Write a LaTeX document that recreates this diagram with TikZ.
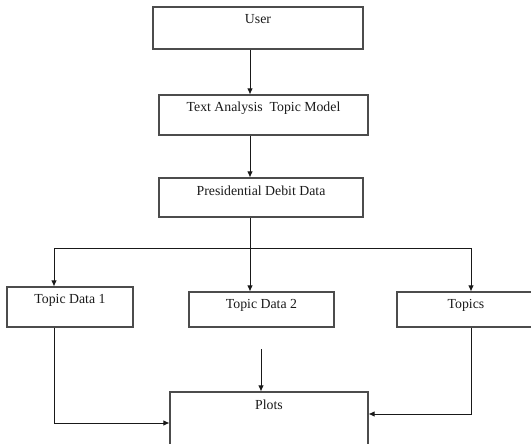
\documentclass[tikz,border=0pt]{standalone}
\usepackage{fontspec}
\setmainfont{Liberation Serif}
\usetikzlibrary{arrows.meta}
\begin{document}
\begin{tikzpicture}[x=1pt,y=-1pt,
  box/.style={draw=black!70, line width=1.1pt, inner sep=0pt},
  lbl/.style={anchor=base, inner sep=0pt, text=black!90, font=\fontsize{13.8}{16}\selectfont},
  conn/.style={draw=black!90, line width=0.9pt},
  arr/.style={conn, -{Latex[length=6pt,width=5.5pt]}}]
  \useasboundingbox (0,0) rectangle (531,444);
  \clip (0,0) rectangle (531,444);

  % boxes
  \node[box, minimum width=210pt, minimum height=42pt] (user)   at (258,28)    {};
  \node[box, minimum width=209pt, minimum height=40pt] (tatm)   at (263.5,115) {};
  \node[box, minimum width=204pt, minimum height=39pt] (pdd)    at (261,197.5) {};
  \node[box, minimum width=126pt, minimum height=40pt] (td1)    at (70,307)    {};
  \node[box, minimum width=145pt, minimum height=35pt] (td2)    at (261.5,309.5) {};
  \node[box, minimum width=138pt, minimum height=35pt] (topics) at (466,309.5) {};
  \node[box, minimum width=198pt, minimum height=78pt] (plots)  at (269,431)   {};

  % labels near the top of each box
  \node[lbl, yshift=-17.5pt] (userT)   at (user.north)   {User};
  \node[lbl, yshift=-17.5pt] (tatmT)   at (tatm.north)   {Text Analysis\ \ Topic Model};
  \node[lbl, yshift=-18pt]   (pddT)    at (pdd.north)    {Presidential Debit Data};
  \node[lbl, yshift=-17pt]   (td1T)    at (td1.north)    {Topic Data 1};
  \node[lbl, yshift=-17pt]   (td2T)    at (td2.north)    {Topic Data 2};
  \node[lbl, yshift=-17pt]   (topicsT) at (topics.north) {Topics};
  \node[lbl, yshift=-18pt]   (plotsT)  at (plots.north)  {Plots};

  % routing coordinates
  \coordinate (spine) at (250,0);
  \coordinate (bus)   at (0,248);
  \coordinate (busL)  at (54,248);
  \coordinate (busR)  at (471,248);
  \coordinate (inL)   at (0,423);
  \coordinate (inR)   at (0,414);
  \coordinate (feed)  at (261,349);

  % connectors
  \draw[arr] (user.south -| spine) -- (tatm.north -| spine);
  \draw[arr] (tatm.south -| spine) -- (pdd.north -| spine);
  \draw[conn] (pdd.south -| spine) -- (bus -| spine);
  \draw[conn] (busL) -- (busR);
  \draw[arr] (busL) -- (td1.north -| busL);
  \draw[arr] (bus -| spine) -- (td2.north -| spine);
  \draw[arr] (busR) -- (topics.north -| busR);
  \draw[arr] (td1.south -| busL) |- (plots.west |- inL);
  \draw[arr] (topics.south -| busR) |- (plots.east |- inR);
  \draw[arr] (feed) -- (plots.north -| feed);
\end{tikzpicture}
\end{document}
